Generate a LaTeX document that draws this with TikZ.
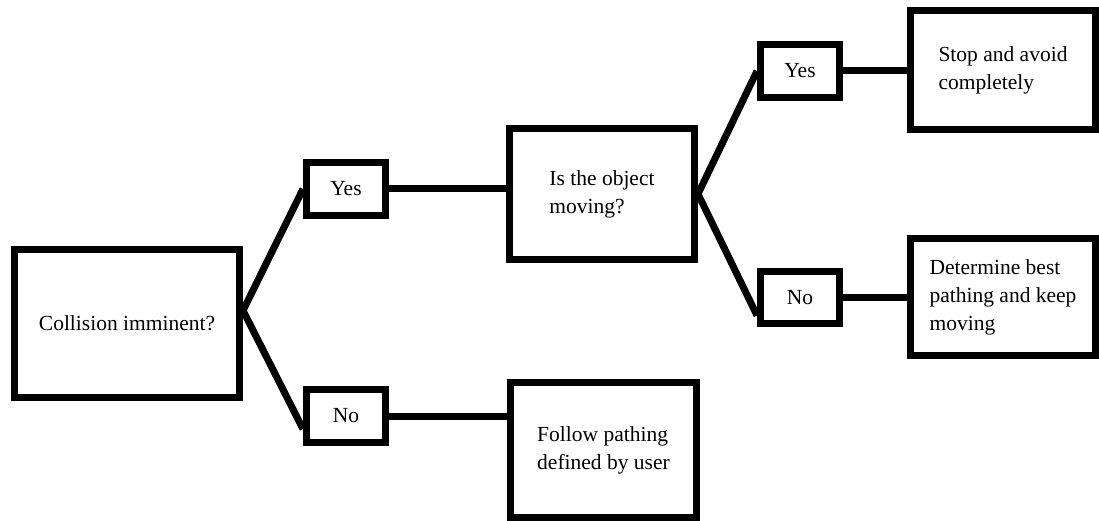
\documentclass[tikz,border=0pt]{standalone}
\usepackage{fontspec}
\setmainfont{Liberation Serif}
\begin{document}
\begin{tikzpicture}[x=1pt,y=-1pt,
  box/.style={draw=black, line width=7pt, align=left, inner sep=0pt,
    font=\fontsize{21.5}{28}\selectfont},
  conn/.style={draw=black, line width=7pt}]
\useasboundingbox (0,0) rectangle (1099,521);
\node[box, minimum width=225pt, minimum height=148pt] (coll) at (127,323.5) {Collision imminent?};
\node[box, minimum width=79pt, minimum height=53pt] (yesA) at (346,189) {Yes};
\node[box, minimum width=79pt, minimum height=53pt] (noA) at (346,416) {No};
\node[box, minimum width=185pt, minimum height=131pt] (moving) at (602,194) {Is the object\\moving?};
\node[box, minimum width=186pt, minimum height=135pt] (follow) at (603.5,450) {Follow pathing\\defined by user};
\node[box, minimum width=79pt, minimum height=53pt] (yesB) at (800,71) {Yes};
\node[box, minimum width=79pt, minimum height=52pt] (noB) at (800,297.5) {No};
\node[box, minimum width=185pt, minimum height=119pt] (stop) at (1003,70) {Stop and avoid\\completely};
\node[box, minimum width=185pt, minimum height=117pt] (det) at (1003,297) {Determine best\\pathing and keep\\moving};
\draw[conn] ([yshift=13pt]coll.east) -- (yesA.west);
\draw[conn] ([yshift=13pt]coll.east) -- ([yshift=-13pt]noA.west);
\draw[conn] (yesA.east) -- (yesA.east -| moving.west);
\draw[conn] (noA.east) -- (noA.east -| follow.west);
\draw[conn] (moving.east) -- (yesB.west);
\draw[conn] (moving.east) -- ([yshift=-18pt]noB.west);
\draw[conn] (yesB.east) -- (yesB.east -| stop.west);
\draw[conn] (noB.east) -- (noB.east -| det.west);
\end{tikzpicture}
\end{document}
